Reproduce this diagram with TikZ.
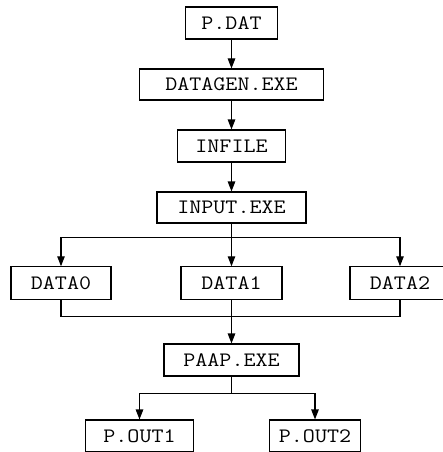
\documentclass[tikz,border=0pt]{standalone}
\usepackage{fontspec}
\setmonofont{Latin Modern Mono}[FakeStretch=1.14]
\usetikzlibrary{arrows.meta}
\begin{document}
\begin{tikzpicture}[x=1pt,y=-1pt,
  box/.style={draw,line width=1.1pt,inner sep=0pt,minimum height=32pt,
    font=\ttfamily\fontsize{20.5}{24}\selectfont},
  conn/.style={line width=1.1pt},
  arr/.style={conn,-{Triangle[length=10pt,width=7.5pt]}}]
\useasboundingbox (0,0) rectangle (443,452);
\node[box,minimum width=92pt] (pdat) at (231.5,23) {P.DAT};
\node[box,minimum width=184pt,minimum height=31pt] (datagen) at (231.5,84.5) {DATAGEN.EXE};
\node[box,minimum width=108pt] (infile) at (231.5,146) {INFILE};
\node[box,minimum width=149pt,minimum height=31pt] (input) at (231.5,207.5) {INPUT.EXE};
\node[box,minimum width=100pt,minimum height=33pt] (d0) at (61,283.3) {DATA0};
\node[box,minimum width=101pt,minimum height=33pt] (d1) at (231.5,283.3) {DATA1};
\node[box,minimum width=100pt,minimum height=33pt] (d2) at (400,283.3) {DATA2};
\node[box,minimum width=135pt] (paap) at (231.5,360) {PAAP.EXE};
\node[box,minimum width=107.5pt] (out1) at (139.5,436) {P.OUT1};
\node[box,minimum width=91.5pt] (out2) at (315,436) {P.OUT2};
\coordinate (split1) at (231.5,237.5);
\coordinate (merge) at (231.5,316.7);
\coordinate (split2) at (231.5,393.3);
\draw[arr] (pdat) -- (datagen);
\draw[arr] (datagen) -- (infile);
\draw[arr] (infile) -- (input);
\draw[conn] (input) -- (split1);
\draw[arr] (split1) -| (d0);
\draw[arr] (split1) -- (d1);
\draw[arr] (split1) -| (d2);
\draw[conn] (d0) |- (merge);
\draw[conn] (d2) |- (merge);
\draw[arr] (d1) -- (paap);
\draw[conn] (paap) -- (split2);
\draw[arr] (split2) -| (out1);
\draw[arr] (split2) -| (out2);
\end{tikzpicture}
\end{document}
